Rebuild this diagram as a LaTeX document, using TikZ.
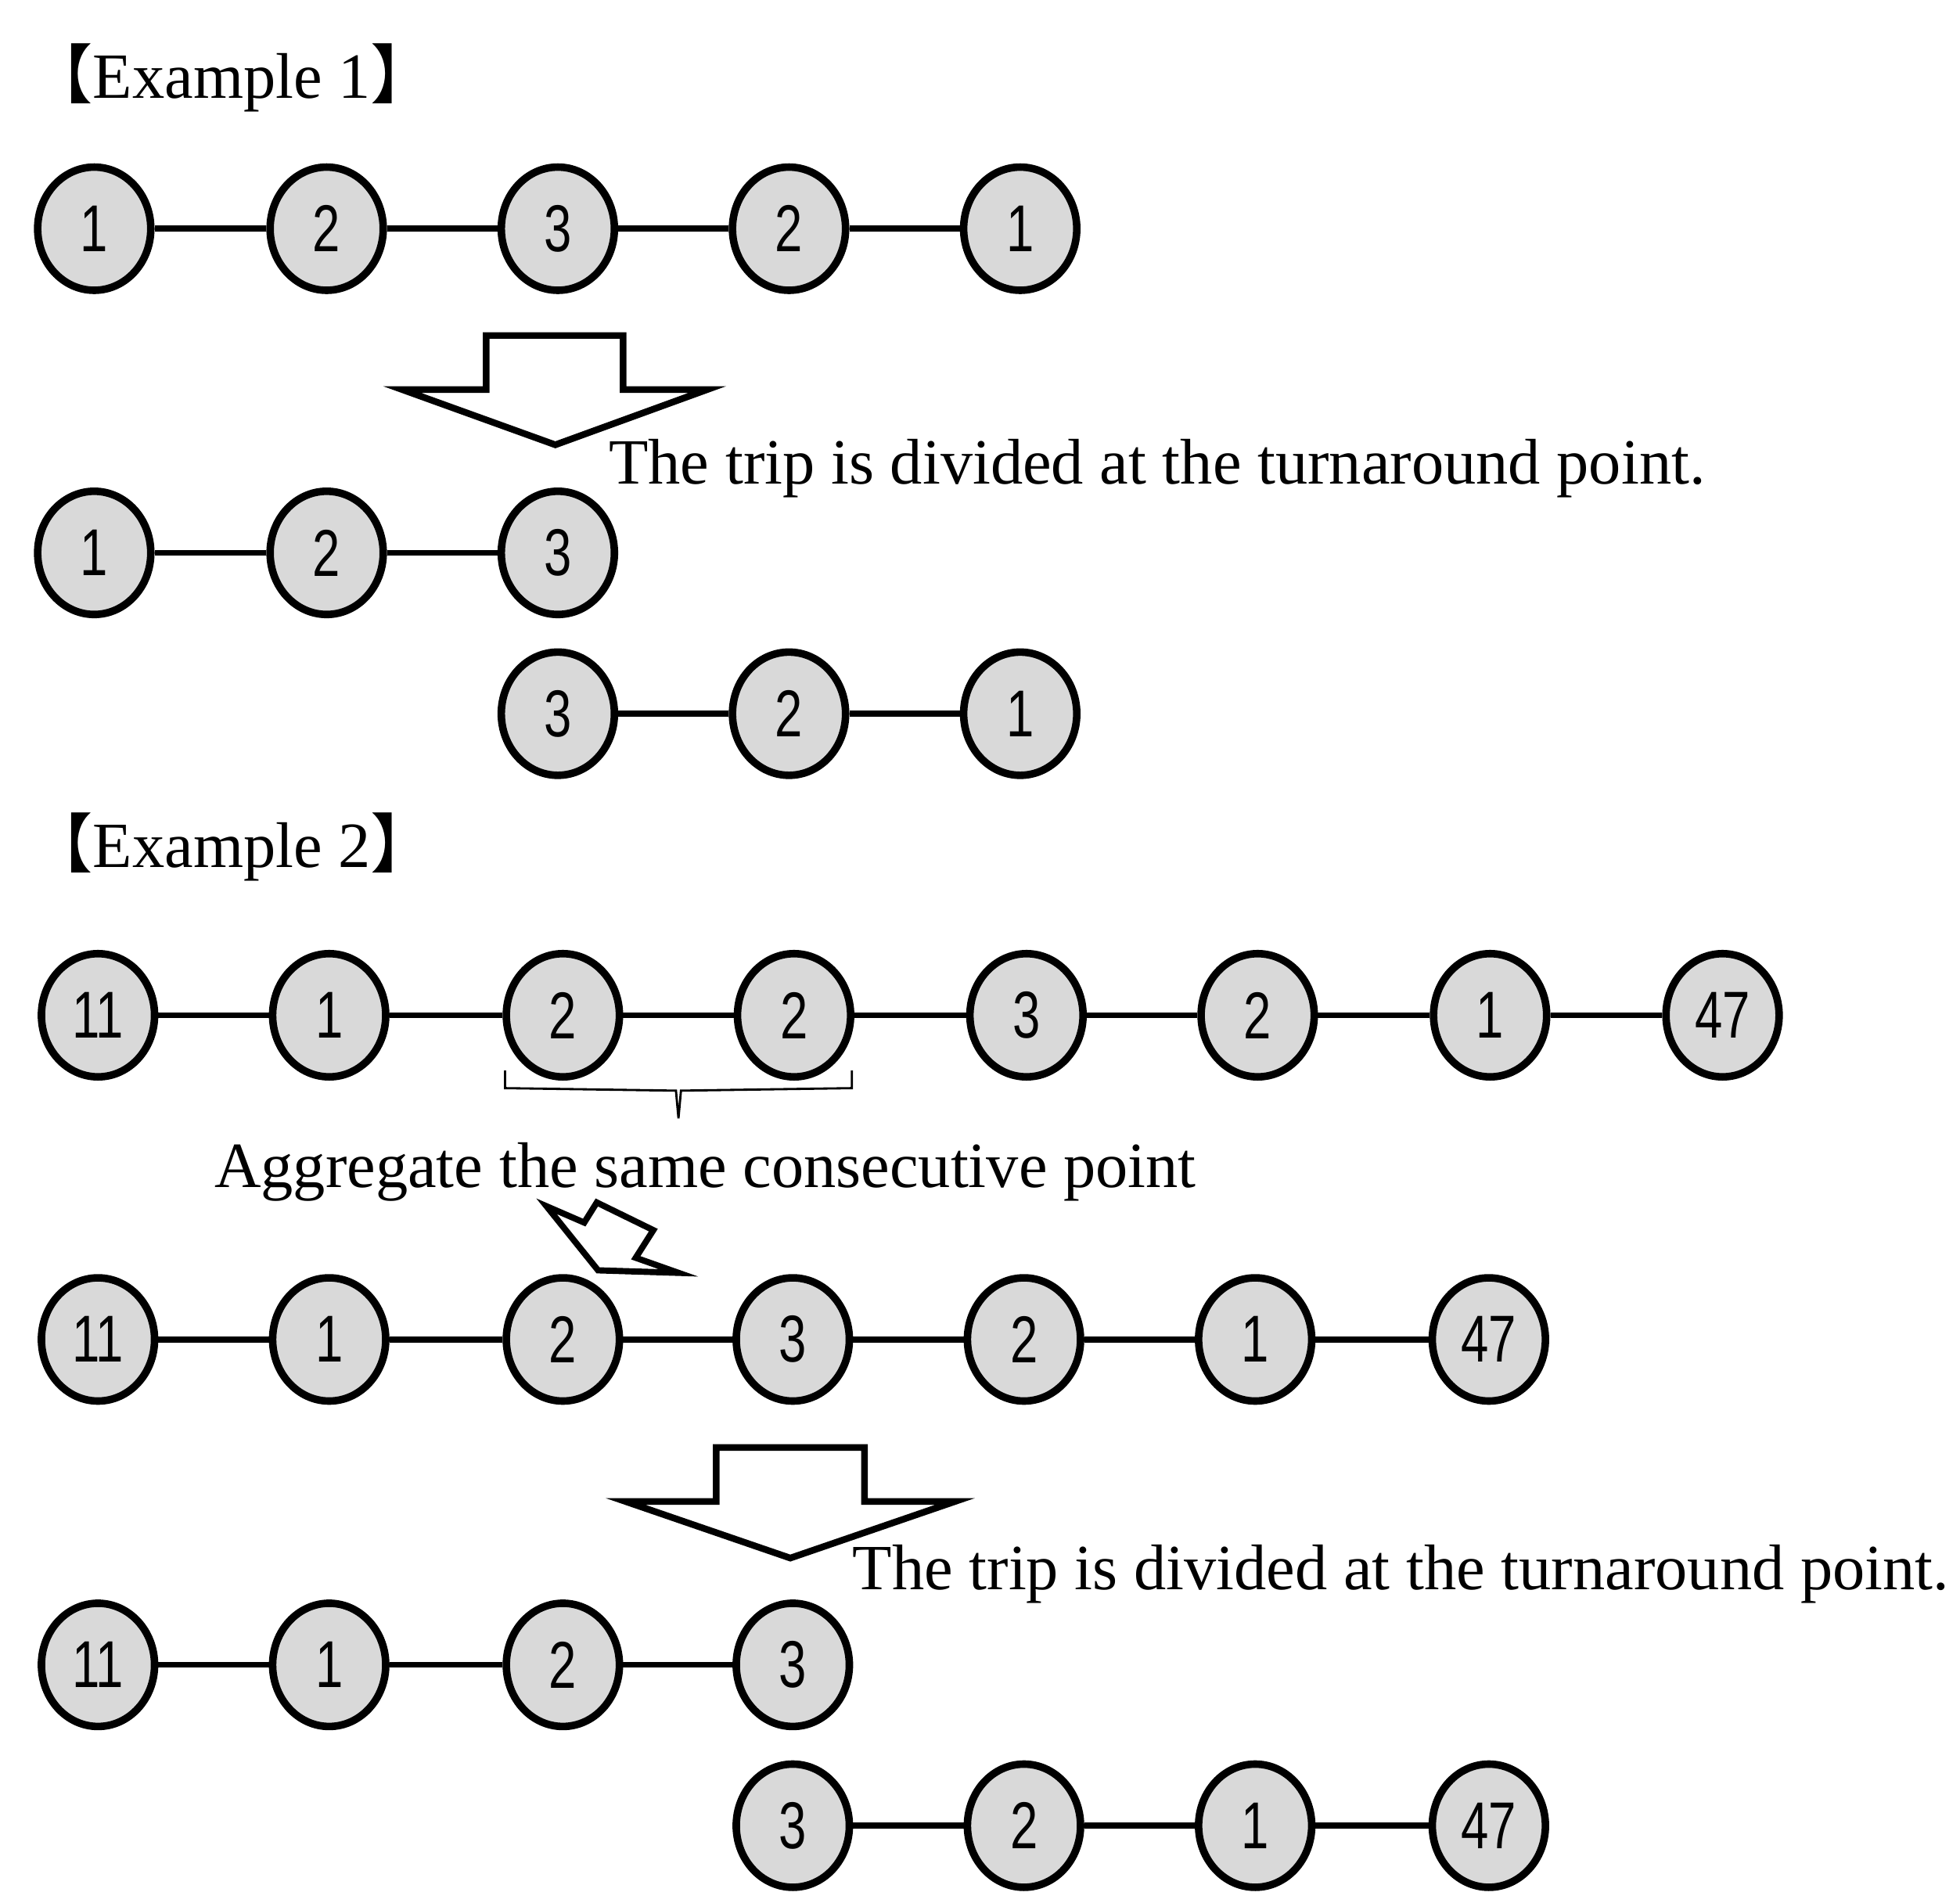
\documentclass[tikz,border=0pt]{standalone}
\usepackage{fontspec}
\setmainfont{Liberation Serif}
\newfontfamily\cjk{Noto Sans CJK JP}
\newfontfamily\numf{Liberation Sans}
\usetikzlibrary{shapes.geometric}
\begin{document}
\begin{tikzpicture}[x=0.01cm,y=-0.01cm,
  pt/.style={ellipse,draw,line width=1.7pt,fill=black!15,inner sep=0pt,minimum width=0.9cm,minimum height=0.98cm,font=\numf\fontsize{15}{15}\selectfont},
  ed/.style={line width=1.35pt},
  blk/.style={line width=1.5pt,fill=white,line join=miter},
  lab/.style={anchor=base west,inner sep=0pt,font=\fontsize{14.6}{16}\selectfont}]
\useasboundingbox (0,0) rectangle (1560,1514);
\newcommand{\nr}[1]{\scalebox{0.75}[1]{#1}}
\newcommand{\row}[4]{%
  \foreach \v [count=\i] in {#3} {
    \pgfmathsetmacro{\xx}{#2[\i-1]}
    \node[pt] (#1\i) at (\xx,#4) {\nr{\v}};
  }}
% Example 1
\node[lab] (h1) at (22,78) {{\cjk【}Example 1{\cjk】}};
\foreach \x/\v [count=\i] in {75/1,260/2,444/3,628/2,812/1} \node[pt] (a\i) at (\x,182) {\nr{\v}};
\foreach \i/\j in {1/2,2/3,3/4,4/5} \draw[ed] (a\i) -- (a\j);
\draw[blk] (387,267) -- (496,267) -- (496,310) -- (563,310) -- (442,354) -- (320,310) -- (387,310) -- cycle;
\node[lab] (t1) at (484,385) {The trip is divided at the turnaround point.};
\foreach \x/\v [count=\i] in {75/1,260/2,444/3} \node[pt] (b\i) at (\x,440) {\nr{\v}};
\foreach \i/\j in {1/2,2/3} \draw[ed] (b\i) -- (b\j);
\foreach \x/\v [count=\i] in {444/3,628/2,812/1} \node[pt] (c\i) at (\x,568) {\nr{\v}};
\foreach \i/\j in {1/2,2/3} \draw[ed] (c\i) -- (c\j);
% Example 2
\node[lab] (h2) at (22,690) {{\cjk【}Example 2{\cjk】}};
\foreach \x/\v [count=\i] in {78/11,262/1,448/2,632/2,817/3,1001/2,1186/1,1371/47} \node[pt] (d\i) at (\x,808) {\nr{\v}};
\foreach \i/\j in {1/2,2/3,3/4,4/5,5/6,6/7,7/8} \draw[ed] (d\i) -- (d\j);
\draw[line width=0.5pt] (402,852) -- (402,866) -- (538,868) -- (540,890) -- (542,868) -- (678,866) -- (678,852);
\node[lab] (t2) at (170,945) {Aggregate the same consecutive point};
\draw[blk,line width=1.4pt] (435,960) -- (465,973) -- (475,957) -- (520,979) -- (506,1001) -- (540,1013) -- (476,1011) -- cycle;
\foreach \x/\v [count=\i] in {78/11,262/1,448/2,631/3,815/2,999/1,1185/47} \node[pt] (e\i) at (\x,1066) {\nr{\v}};
\foreach \i/\j in {1/2,2/3,3/4,4/5,5/6,6/7} \draw[ed] (e\i) -- (e\j);
\draw[blk] (570,1152) -- (688,1152) -- (688,1195) -- (760,1195) -- (629,1240) -- (498,1195) -- (570,1195) -- cycle;
\node[lab] (t3) at (678,1265) {The trip is divided at the turnaround point.};
\foreach \x/\v [count=\i] in {78/11,262/1,448/2,631/3} \node[pt] (f\i) at (\x,1325) {\nr{\v}};
\foreach \i/\j in {1/2,2/3,3/4} \draw[ed] (f\i) -- (f\j);
\foreach \x/\v [count=\i] in {631/3,815/2,999/1,1185/47} \node[pt] (g\i) at (\x,1453) {\nr{\v}};
\foreach \i/\j in {1/2,2/3,3/4} \draw[ed] (g\i) -- (g\j);
\end{tikzpicture}
\end{document}
